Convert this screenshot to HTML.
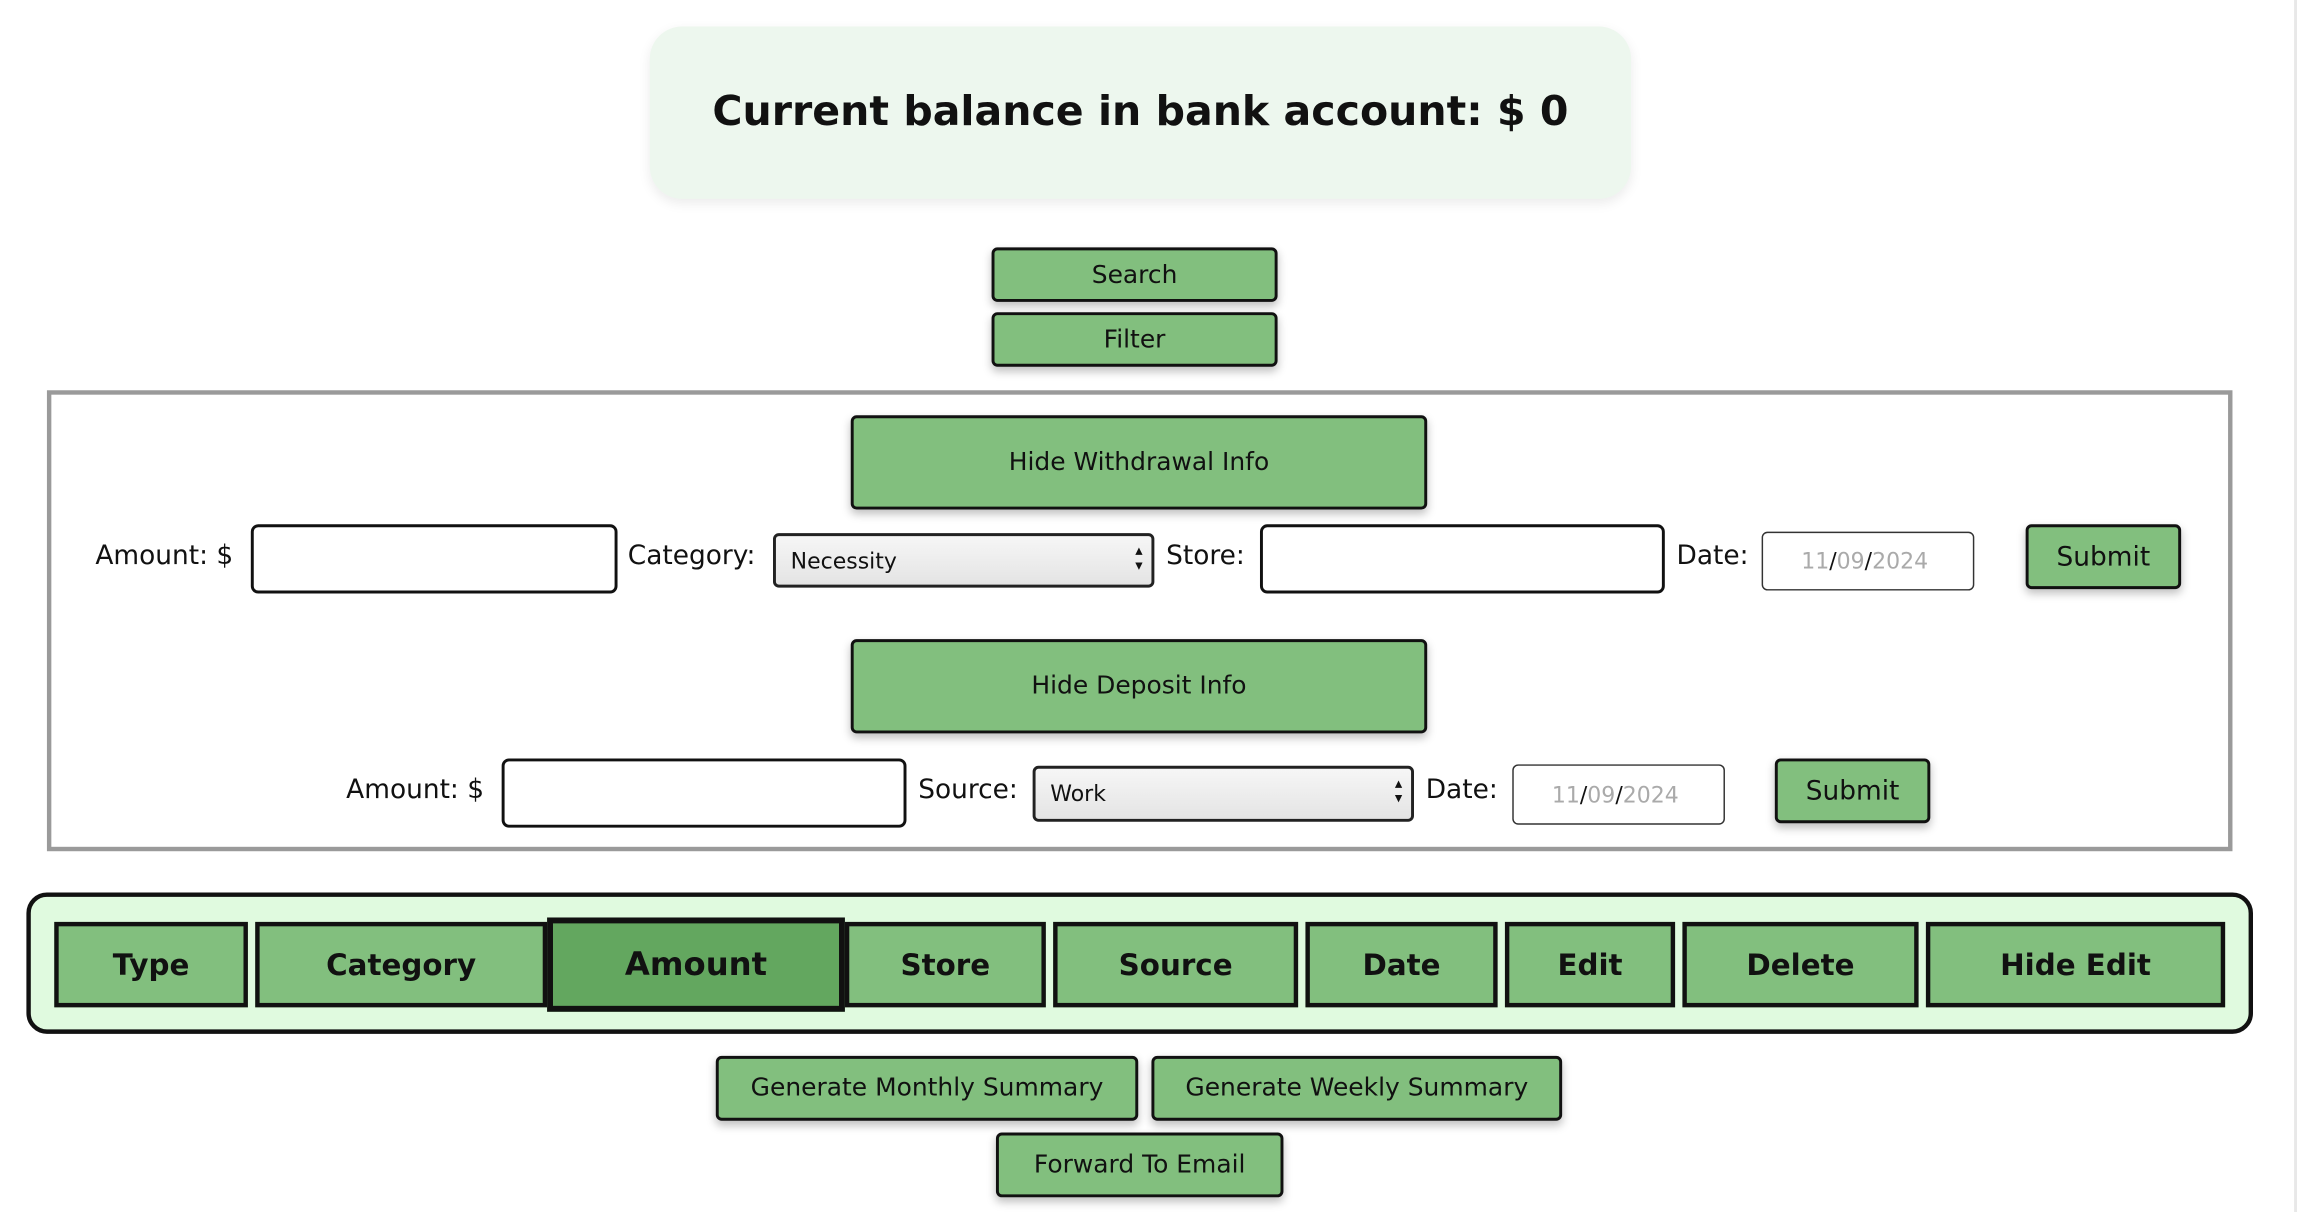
<!DOCTYPE html>
<html><head><meta charset="utf-8"><style>
html,body{margin:0;padding:0;background:#fff;width:2300px;height:1212px;overflow:hidden}
#w{position:absolute;left:0;top:0;width:1568px;height:823px;transform:scale(1.4668,1.4727);transform-origin:0 0;font-family:"DejaVu Sans","Liberation Sans",sans-serif;color:#111}
.a{position:absolute;box-sizing:border-box}
.btn{background:#82bf7e;border:2px solid #111;border-radius:4px;box-shadow:0 3px 6px rgba(0,0,0,.25);display:flex;align-items:center;justify-content:center;font-size:17px;color:#111}
.inp{background:#fff;border:2px solid #111;border-radius:5px}
.lbl{font-size:18px;line-height:24px}
.sel{background:linear-gradient(#f6f6f6,#e4e4e4);border:2px solid #222;border-radius:4px;font-size:15px;padding-left:10px;display:flex;align-items:center}
.sel::after{content:"▴\A▾";white-space:pre;position:absolute;right:6px;top:6px;font-size:10px;line-height:10px}
.date{background:#fff;border:1.5px solid #333;border-radius:4px;font-size:15px;color:#aaa;display:flex;align-items:center;padding-left:26px}
.date b{font-weight:normal;color:#111}
.th{background:#82bf7e;border:3px solid #111;display:flex;align-items:center;justify-content:center;font-weight:bold;font-size:20px;top:626px;height:58px}
</style></head><body><div id="w">
<div class="a" style="left:443px;top:18px;width:669px;height:117px;background:#edf7ee;border-radius:22px;box-shadow:0 3px 8px rgba(0,0,0,.08);display:flex;align-items:center;justify-content:center;font-weight:bold;font-size:28px;padding-bottom:2px">Current balance in bank account: $ 0</div>
<div class="a btn" style="left:676px;top:168px;width:195px;height:37px">Search</div>
<div class="a btn" style="left:676px;top:212px;width:195px;height:37px">Filter</div>
<div class="a" style="left:32px;top:265px;width:1490px;height:313px;border:3px solid #9a9a9a"></div>
<div class="a btn" style="left:580px;top:282px;width:393px;height:64px">Hide Withdrawal Info</div>
<div class="a lbl" style="left:65px;top:366px">Amount: $</div>
<div class="a inp" style="left:171px;top:356px;width:250px;height:47px"></div>
<div class="a lbl" style="left:428px;top:366px">Category:</div>
<div class="a sel" style="left:527px;top:362px;width:260px;height:37px">Necessity</div>
<div class="a lbl" style="left:795px;top:366px">Store:</div>
<div class="a inp" style="left:859px;top:356px;width:276px;height:47px"></div>
<div class="a lbl" style="left:1143px;top:366px">Date:</div>
<div class="a date" style="left:1201px;top:361px;width:145px;height:40px">11<b>/</b>09<b>/</b>2024</div>
<div class="a btn" style="left:1381px;top:356px;width:106px;height:44px;font-size:18px">Submit</div>
<div class="a btn" style="left:580px;top:434px;width:393px;height:64px">Hide Deposit Info</div>
<div class="a lbl" style="left:236px;top:525px">Amount: $</div>
<div class="a inp" style="left:342px;top:515px;width:276px;height:47px"></div>
<div class="a lbl" style="left:626px;top:525px">Source:</div>
<div class="a sel" style="left:704px;top:520px;width:260px;height:38px">Work</div>
<div class="a lbl" style="left:972px;top:525px">Date:</div>
<div class="a date" style="left:1031px;top:519px;width:145px;height:41px">11<b>/</b>09<b>/</b>2024</div>
<div class="a btn" style="left:1210px;top:515px;width:106px;height:44px;font-size:18px">Submit</div>
<div class="a" style="left:18px;top:606px;width:1518px;height:96px;background:#e0fadf;border:3px solid #111;border-radius:14px"></div>
<div class="a th" style="left:37px;width:132px">Type</div>
<div class="a th" style="left:174px;width:199px">Category</div>
<div class="a th" style="left:576px;width:137px">Store</div>
<div class="a th" style="left:718px;width:167px">Source</div>
<div class="a th" style="left:890px;width:131px">Date</div>
<div class="a th" style="left:1026px;width:116px">Edit</div>
<div class="a th" style="left:1147px;width:161px">Delete</div>
<div class="a th" style="left:1313px;width:204px">Hide Edit</div>
<div class="a th" style="left:373px;top:623px;width:203px;height:64px;background:#63a75f;border-width:4px;font-size:22px">Amount</div>
<div class="a btn" style="left:488px;top:717px;width:288px;height:44px">Generate Monthly Summary</div>
<div class="a btn" style="left:785px;top:717px;width:280px;height:44px">Generate Weekly Summary</div>
<div class="a btn" style="left:679px;top:769px;width:196px;height:44px">Forward To Email</div>
<div class="a" style="left:1564px;top:0;width:2px;height:823px;background:#e8e8e8"></div>
</div></body></html>
